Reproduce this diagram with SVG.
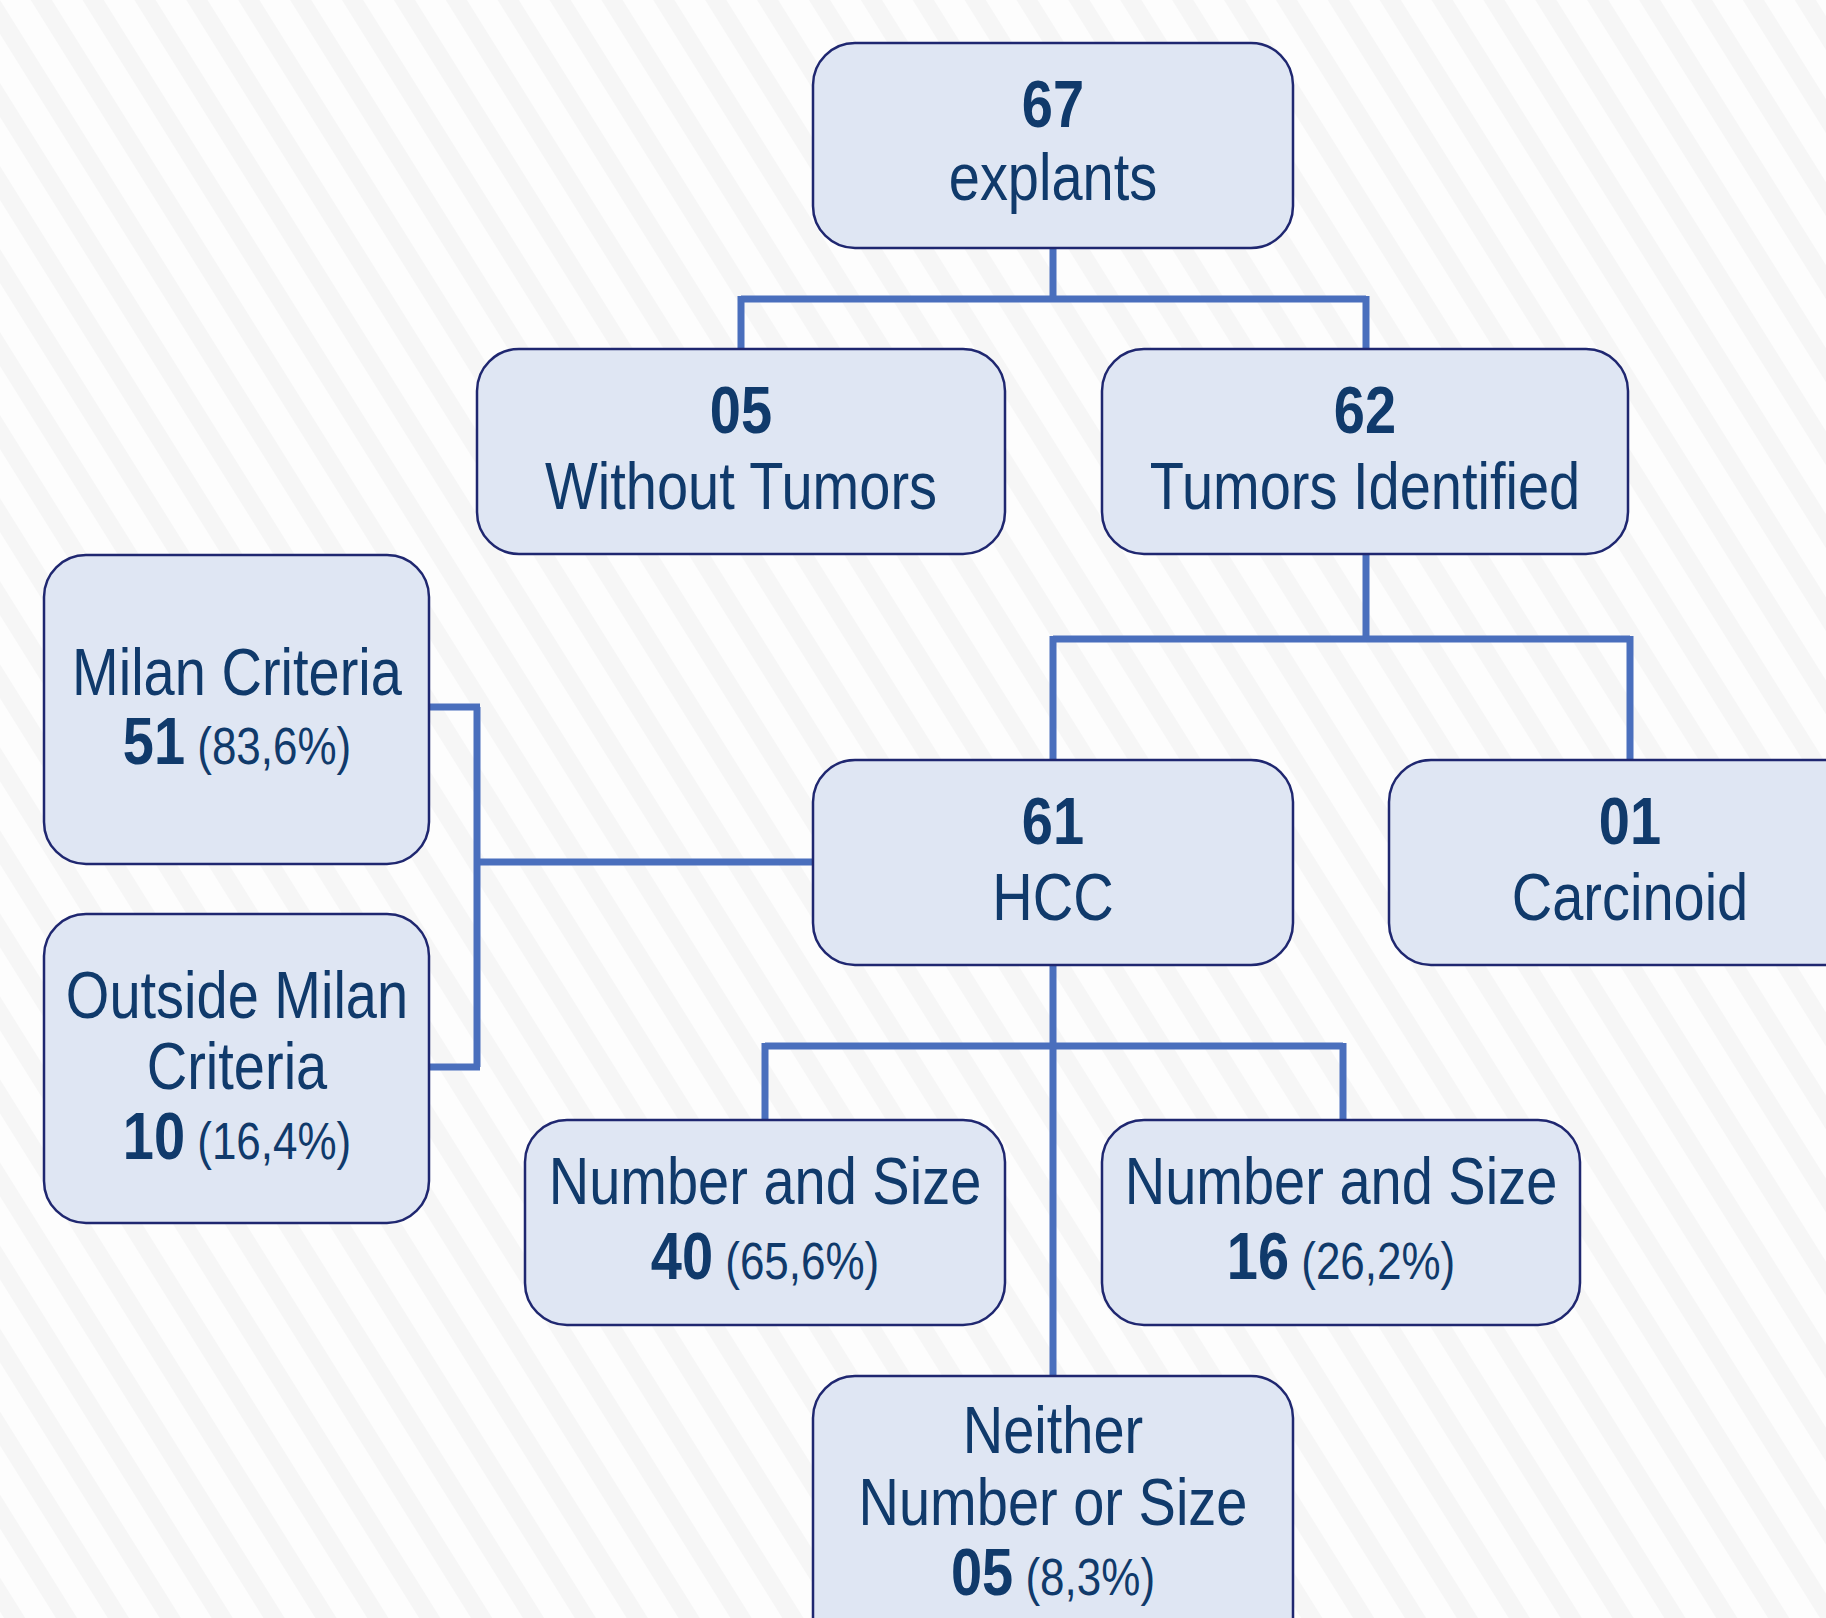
<svg xmlns="http://www.w3.org/2000/svg" width="1826" height="1618" viewBox="0 0 1826 1618">
<defs>
<pattern id="bg" width="44" height="44" patternUnits="userSpaceOnUse" patternTransform="rotate(58)">
<rect width="44" height="44" fill="#fdfdfd"/>
<rect width="44" height="18" fill="#f6f6f6"/>
</pattern>
<style>
.box{fill:#dfe6f3;stroke:#1f2770;stroke-width:2.5}
.con{fill:none;stroke:#4a6fbd;stroke-width:7;stroke-linecap:butt;stroke-linejoin:miter}
text{font-family:"Liberation Sans",Arial,sans-serif;fill:#103a6b;text-anchor:middle;font-size:56px}
.b{font-weight:bold}
.s{font-size:44px}
</style>
</defs>
<rect width="1826" height="1618" fill="url(#bg)"/>
<g id="connectors">
<path class="con" d="M1053 248 V299 M741 299 H1366 M741 296 V349 M1366 296 V349"/>
<path class="con" d="M1366 554 V639 M1053 639 H1630 M1053 636 V760 M1630 636 V760"/>
<path class="con" d="M813 862 H477 M477 707 V1067 M429 707 H480 M429 1067 H480"/>
<path class="con" d="M1053 965 V1376 M765 1046 H1343 M765 1043 V1120 M1343 1043 V1120"/>
</g>
<g id="n-explants">
<rect class="box" x="813" y="43" width="480" height="205" rx="42"/>
<text class="b" transform="matrix(1 0 0 1.18 1053 127)">67</text>
<text transform="matrix(1 0 0 1.18 1053 200)">explants</text>
</g>
<g id="n-without">
<rect class="box" x="477" y="349" width="528" height="205" rx="42"/>
<text class="b" transform="matrix(1 0 0 1.18 741 433)">05</text>
<text transform="matrix(1 0 0 1.18 741 509)">Without Tumors</text>
</g>
<g id="n-tumors">
<rect class="box" x="1102" y="349" width="526" height="205" rx="42"/>
<text class="b" transform="matrix(1 0 0 1.18 1365 433)">62</text>
<text transform="matrix(1 0 0 1.18 1365 509)">Tumors Identified</text>
</g>
<g id="n-milan">
<rect class="box" x="44" y="555" width="385" height="309" rx="42"/>
<text transform="matrix(1 0 0 1.18 237 695)">Milan Criteria</text>
<text transform="matrix(1 0 0 1.18 237 764)"><tspan class="b">51</tspan><tspan class="s"> (83,6%)</tspan></text>
</g>
<g id="n-outside">
<rect class="box" x="44" y="914" width="385" height="309" rx="42"/>
<text transform="matrix(1 0 0 1.18 237 1018)">Outside Milan</text>
<text transform="matrix(1 0 0 1.18 237 1089)">Criteria</text>
<text transform="matrix(1 0 0 1.18 237 1159)"><tspan class="b">10</tspan><tspan class="s"> (16,4%)</tspan></text>
</g>
<g id="n-hcc">
<rect class="box" x="813" y="760" width="480" height="205" rx="42"/>
<text class="b" transform="matrix(1 0 0 1.18 1053 844)">61</text>
<text transform="matrix(1 0 0 1.18 1053 920)">HCC</text>
</g>
<g id="n-carcinoid">
<rect class="box" x="1389" y="760" width="500" height="205" rx="42"/>
<text class="b" transform="matrix(1 0 0 1.18 1630 844)">01</text>
<text transform="matrix(1 0 0 1.18 1630 920)">Carcinoid</text>
</g>
<g id="n-ns-left">
<rect class="box" x="525" y="1120" width="480" height="205" rx="42"/>
<text transform="matrix(1 0 0 1.18 765 1204)">Number and Size</text>
<text transform="matrix(1 0 0 1.18 765 1279)"><tspan class="b">40</tspan><tspan class="s"> (65,6%)</tspan></text>
</g>
<g id="n-ns-right">
<rect class="box" x="1102" y="1120" width="478" height="205" rx="42"/>
<text transform="matrix(1 0 0 1.18 1341 1204)">Number and Size</text>
<text transform="matrix(1 0 0 1.18 1341 1279)"><tspan class="b">16</tspan><tspan class="s"> (26,2%)</tspan></text>
</g>
<g id="n-neither">
<rect class="box" x="813" y="1376" width="480" height="290" rx="42"/>
<text transform="matrix(1 0 0 1.18 1053 1453)">Neither</text>
<text transform="matrix(1 0 0 1.18 1053 1525)">Number or Size</text>
<text transform="matrix(1 0 0 1.18 1053 1595)"><tspan class="b">05</tspan><tspan class="s"> (8,3%)</tspan></text>
</g>
</svg>
